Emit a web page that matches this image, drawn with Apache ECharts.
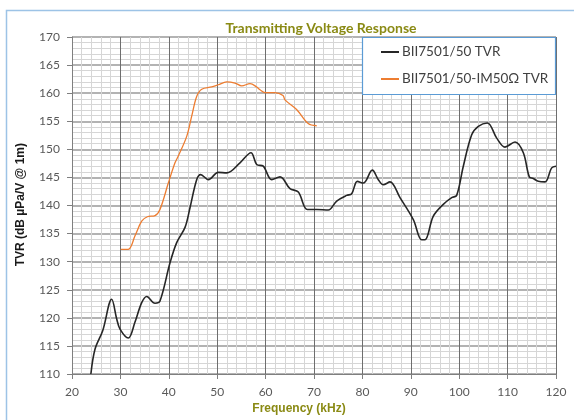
<!DOCTYPE html>
<html>
<head>
<meta charset="utf-8">
<script src="https://cdn.jsdelivr.net/npm/echarts@6/dist/echarts.min.js"></script>
<style>
html,body{margin:0;padding:0;background:#fff;}
#c{width:574px;height:420px;}
</style>
</head>
<body>
<div id="c"></div>
<script>
var xTicks = [20, 30, 40, 50, 60, 70, 80, 90, 100, 110, 120];
var yTicks = [110, 115, 120, 125, 130, 135, 140, 145, 150, 155, 160, 165, 170];

var tvrFreq = [23.9, 24.75, 26.34, 28.2, 29.24, 29.92, 31.63, 33.0, 34.4, 35.43, 37.15, 38.18, 40.25, 41.63, 43.35, 44.38, 45.76, 46.59, 48.16, 50.23, 51.96, 54.71, 56.98, 58.16, 59.52, 61.26, 62.98, 65.04, 66.76, 68.62, 70.56, 72.95, 74.69, 76.76, 77.79, 78.95, 80.19, 82.05, 83.29, 84.32, 85.7, 87.77, 90.52, 92.25, 92.93, 94.65, 96.71, 98.45, 99.48, 100.85, 102.58, 103.95, 105.81, 107.75, 109.46, 111.53, 113.25, 114.48, 115.31, 116.34, 117.73, 119.11, 120.0];
var tvrValue = [110.0, 114.4, 117.7, 123.3, 119.8, 118.0, 116.4, 119.2, 122.7, 123.8, 122.6, 123.0, 129.8, 133.4, 136.1, 139.6, 144.6, 145.5, 144.6, 145.9, 145.8, 147.6, 149.4, 147.3, 147.0, 144.6, 145.1, 143.0, 142.4, 139.3, 139.3, 139.2, 140.8, 141.8, 142.1, 144.3, 144.0, 146.3, 144.6, 143.7, 144.2, 141.4, 137.5, 133.9, 133.9, 138.1, 140.2, 141.4, 141.8, 147.0, 152.6, 154.1, 154.7, 152.0, 150.4, 151.3, 149.4, 145.1, 144.8, 144.3, 144.2, 146.7, 147.0];

var imFreq = [30.06, 31.63, 33.02, 34.4, 35.56, 37.15, 38.18, 39.9, 41.28, 41.96, 43.7, 44.73, 45.76, 46.8, 48.86, 50.23, 51.96, 53.68, 55.06, 56.78, 58.16, 58.84, 59.9, 61.9, 63.6, 64.0, 66.4, 68.8, 70.56];
var imValue = [132.2, 132.2, 134.6, 137.2, 138.0, 138.2, 139.3, 144.0, 147.6, 148.8, 152.3, 155.9, 159.4, 160.7, 161.1, 161.5, 162.0, 161.8, 161.3, 161.7, 161.1, 160.6, 160.1, 160.1, 159.6, 158.8, 157.1, 154.6, 154.2];

var seriesNames = ['BII7501/50 TVR', 'BII7501/50-IM50\u03A9 TVR'];

function pairs(xs, ys) { return xs.map(function (x, i) { return [x, ys[i]]; }); }

var chart = echarts.init(document.getElementById('c'), null, {renderer: 'canvas'});
var olive = '#8a8a14';
chart.setOption({
  animation: false,
  backgroundColor: '#fff',
  title: {
    text: 'Transmitting Voltage Response',
    left: 316, top: 16, textAlign: 'center',
    textStyle: {fontFamily: 'Lato', fontWeight: 'bold', fontSize: 14, color: olive}
  },
  graphic: [
    {type: 'rect', z: 0, silent: true, shape: {x: 6.5, y: 10.5, width: 600, height: 450},
     style: {fill: 'none', stroke: '#9dc3e6', lineWidth: 1.5}},
    {type: 'rect', z: 50, silent: true, shape: {x: 362.5, y: 37.5, width: 193, height: 57},
     style: {fill: '#fff', stroke: '#5b9bd5', lineWidth: 1.2}},
    {type: 'text', z: 50, silent: true, left: 15, top: 143,
     rotation: Math.PI / 2,
     style: {text: 'TVR (dB \u00B5Pa/V @ 1m)', fontFamily: 'Liberation Sans', fontWeight: 'bold', fontSize: 12, fill: '#1a1a1a'}}
  ],
  legend: {
    z: 60, orient: 'vertical', left: 376, top: 40,
    itemWidth: 18, itemHeight: 2, itemGap: 13, icon: 'rect',
    textStyle: {fontFamily: 'Lato', fontSize: 13.5, color: '#404040', lineHeight: 14, padding: [0, 0, 0, -2]},
    data: seriesNames
  },
  grid: {left: 72, right: 18, top: 37, bottom: 46, containLabel: false},
  xAxis: {
    type: 'value', min: 20, max: 120, interval: 10,
    name: 'Frequency (kHz)', nameLocation: 'middle', nameGap: 28,
    nameTextStyle: {fontFamily: 'Liberation Sans', fontWeight: 'bold', fontSize: 12, color: olive, padding: [0, 30, 0, 0]},
    axisLine: {show: true, lineStyle: {color: '#7f7f7f', width: 1}},
    axisTick: {show: true, length: 5, lineStyle: {color: '#7f7f7f'}},
    minorTick: {show: false, splitNumber: 5},
    axisLabel: {margin: 12, fontFamily: 'Lato', fontSize: 12, color: '#595959',
      formatter: function (v) { return xTicks.indexOf(v) >= 0 ? String(v) : ''; }},
    splitLine: {show: true, lineStyle: {color: '#6e6e6e', width: 1}},
    minorSplitLine: {show: true, lineStyle: {color: '#d6d6d6', width: 1}}
  },
  yAxis: {
    type: 'value', min: 110, max: 170, interval: 5,
    axisLine: {show: true, lineStyle: {color: '#7f7f7f', width: 1}},
    axisTick: {show: true, length: 5, lineStyle: {color: '#7f7f7f'}},
    minorTick: {show: false, splitNumber: 5},
    axisLabel: {margin: 12, fontFamily: 'Lato', fontSize: 12, color: '#595959',
      formatter: function (v) { return yTicks.indexOf(v) >= 0 ? String(v) : ''; }},
    splitLine: {show: true, lineStyle: {color: '#9a9a9a', width: 1.6}},
    minorSplitLine: {show: true, lineStyle: {color: '#d6d6d6', width: 1}}
  },
  series: [
    {name: seriesNames[0], type: 'line', data: pairs(tvrFreq, tvrValue), smooth: 0.35,
     showSymbol: false, symbol: 'none', z: 5,
     lineStyle: {color: '#262626', width: 1.6}, itemStyle: {color: '#262626'}},
    {name: seriesNames[1], type: 'line', data: pairs(imFreq, imValue), smooth: 0.35,
     showSymbol: false, symbol: 'none', z: 4,
     lineStyle: {color: '#ed7d31', width: 1.3}, itemStyle: {color: '#ed7d31'}}
  ]
});
</script>
</body>
</html>
